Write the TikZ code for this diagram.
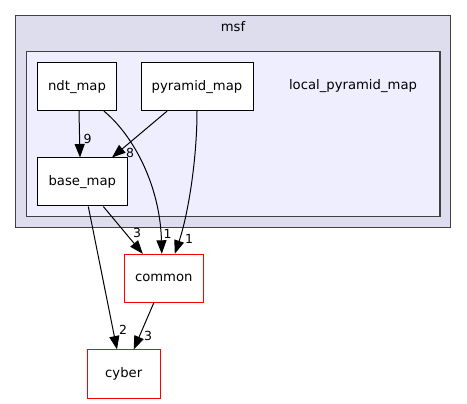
\documentclass[tikz,border=0pt]{standalone}
\usepackage{fontspec}
\setmainfont{DejaVu Sans}
\usetikzlibrary{arrows.meta}
\definecolor{msfgray}{HTML}{DDDDEE}
\definecolor{lpmblue}{HTML}{EEEEFF}
\definecolor{clusteredge}{HTML}{404040}
\begin{document}
\begin{tikzpicture}[x=1pt,y=-1pt,
    dirbox/.style={draw=black,fill=white,line width=1pt,inner sep=0pt,minimum height=48pt,font=\fontsize{13.2}{15}\selectfont},
    extbox/.style={dirbox,draw=red},
    dep/.style={line width=1pt,-{Triangle[length=13.5pt,width=10pt]}},
    lbl/.style={inner sep=0pt,font=\fontsize{12.5}{14}\selectfont}]
    \useasboundingbox (0,0) rectangle (467,404);

    % clusters
    \filldraw[fill=msfgray, draw=clusteredge, line width=1.4pt] (15.7,15.7) rectangle (450.7,227.3);
    \node[font=\fontsize{13.2}{15}\selectfont] (msf) at (233,27) {msf};
    \filldraw[fill=lpmblue, draw=clusteredge, line width=1.4pt] (26.7,51.7) rectangle (440,216.5);
    \node[font=\fontsize{13.2}{15}\selectfont] (lpm) at (353,86) {local\_pyramid\_map};

    % directories
    \node[dirbox, minimum width=79.4pt] (ndt) at (77,86.7) {ndt\_map};
    \node[dirbox, minimum width=112pt] (pyramid) at (197,86.7) {pyramid\_map};
    \node[dirbox, minimum width=90pt] (base) at (82.3,182) {base\_map};
    \node[extbox, minimum width=79pt] (common) at (163.8,278.3) {common};
    \node[extbox, minimum width=72.7pt] (cyber) at (123.7,374) {cyber};

    % dependencies
    \draw[dep] ([xshift=2pt]ndt.south) -- ([xshift=-2.3pt]base.north) node[lbl] at (87.5,138.5) {9};
    \draw[dep] ([xshift=-30pt]pyramid.south) -- ([xshift=29.7pt]base.north) node[lbl] at (130,153) {8};
    \draw[dep] ([xshift=27pt]ndt.south) .. controls (133,135) and (160,185) .. ([xshift=-2pt]common.north) node[lbl] at (167.5,234) {1};
    \draw[dep] (pyramid.south) .. controls (197,160) and (188,215) .. ([xshift=11pt]common.north) node[lbl] at (189,239) {1};
    \draw[dep] ([xshift=21pt]base.south) -- ([xshift=-21pt]common.north) node[lbl] at (137,233) {3};
    \draw[dep] ([xshift=6pt]base.south) -- ([xshift=-6.7pt]cyber.north) node[lbl] at (123,329.5) {2};
    \draw[dep] ([xshift=-10pt]common.south) -- ([xshift=10pt]cyber.north) node[lbl] at (148,336) {3};
\end{tikzpicture}
\end{document}
